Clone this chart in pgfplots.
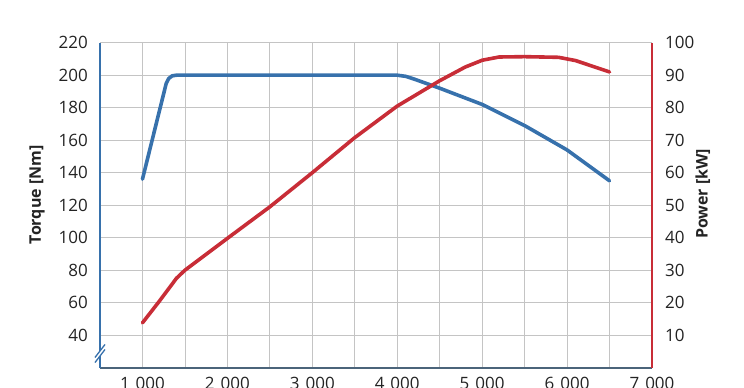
\documentclass[border=0pt]{standalone}
\usepackage{fontspec}
\setmainfont{Open Sans}
\usepackage{pgfplots}
\pgfplotsset{compat=1.18}
\definecolor{tblue}{RGB}{55,113,172}
\definecolor{pred}{RGB}{200,45,55}
\definecolor{gridc}{RGB}{196,196,196}
\definecolor{basec}{RGB}{75,100,122}
\definecolor{txt}{RGB}{35,35,35}
\begin{document}
\begin{tikzpicture}
\pgfplotsset{every axis/.append style={
  scale only axis, width=552pt, height=325pt, xmin=500, xmax=7000,
  /pgf/number format/assume math mode=true,
  tick label style={font=\fontsize{17}{20}\selectfont, text=txt},
  major tick length=0pt, minor tick length=0pt,
  clip=false,
}}
\begin{axis}[name=ax,
  ymin=20, ymax=220,
  axis x line*=bottom, axis y line*=left,
  x axis line style={draw=basec, line width=1.6pt, -},
  y axis line style={draw=none},
  xtick={1000,2000,...,7000},
  xticklabels={1\hspace{0.35em}000,2\hspace{0.35em}000,3\hspace{0.35em}000,4\hspace{0.35em}000,5\hspace{0.35em}000,6\hspace{0.35em}000,7\hspace{0.35em}000},
  minor xtick={1500,2500,...,6500},
  ytick={40,60,...,220},
  xmajorgrids, xminorgrids, ymajorgrids,
  grid style={draw=gridc, line width=0.8pt},
  minor grid style={draw=gridc, line width=0.8pt},
  xticklabel style={anchor=north, inner sep=0pt, yshift=-9pt},
  yticklabel style={anchor=east, inner sep=0pt, xshift=-12pt},
  ylabel={Torque [Nm]},
  every axis y label/.style={at={(axis description cs:-0.114,0.532)}, rotate=90, anchor=center, font=\fontsize{16}{19}\selectfont\bfseries, text=txt},
]
\addplot[tblue, line width=3.6pt, line join=round, line cap=round] coordinates {
(1000,136) (1280,195) (1310,198) (1350,199.6) (1400,200) (4000,200) (4100,199.3) (4200,197.6)
(4500,192) (5000,182) (5500,169) (6000,154) (6500,135)};
\draw[tblue, line width=1.6pt] (axis cs:500,20) -- (axis cs:500,220);
\fill[white] ([shift={(-5pt,-6.5pt)}]axis cs:500,27.2) -- ([shift={(5pt,6.5pt)}]axis cs:500,27.2) -- ([shift={(5pt,6.5pt)}]axis cs:500,30.3) -- ([shift={(-5pt,-6.5pt)}]axis cs:500,30.3) -- cycle;
\draw[tblue, line width=1.3pt] ([shift={(-5pt,-6.5pt)}]axis cs:500,27.2) -- ([shift={(5pt,6.5pt)}]axis cs:500,27.2);
\draw[tblue, line width=1.3pt] ([shift={(-5pt,-6.5pt)}]axis cs:500,30.3) -- ([shift={(5pt,6.5pt)}]axis cs:500,30.3);
\end{axis}
\begin{axis}[
  ymin=0, ymax=100,
  axis x line=none, axis y line*=right,
  y axis line style={draw=pred, line width=1.6pt, -},
  ytick={10,20,...,100},
  yticklabel style={anchor=west, inner sep=0pt, xshift=13pt},
  ylabel={Power [kW]},
  every axis y label/.style={at={(axis description cs:1.092,0.535)}, rotate=90, anchor=center, font=\fontsize{16}{19}\selectfont\bfseries, text=txt},
]
\addplot[pred, line width=3.6pt, line join=round, line cap=round] coordinates {
(1000,13.8) (1200,20.5) (1400,27.5) (1500,30) (2000,39.8) (2500,49.5) (3000,60) (3500,70.8)
(4000,80.5) (4500,88.3) (4800,92.5) (5000,94.6) (5200,95.6) (5500,95.7) (5900,95.5) (6100,94.5) (6500,91)};
\end{axis}
\pgfresetboundingbox
\path[use as bounding box] ([xshift=-100pt,yshift=-20.3pt]ax.south west) rectangle ([xshift=92pt,yshift=42.7pt]ax.north east);
\end{tikzpicture}
\end{document}
